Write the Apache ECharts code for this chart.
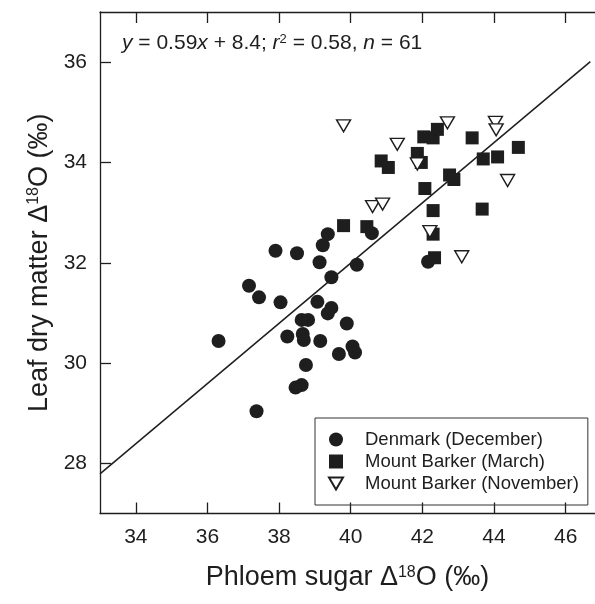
<!DOCTYPE html>
<html><head><meta charset="utf-8">
<script src="https://cdn.jsdelivr.net/npm/echarts@6/dist/echarts.min.js"></script>
<style>html,body{margin:0;padding:0;background:#fff}#c{width:595px;height:604px}</style>
</head><body><div id="c"></div>
<script>
// Tick labels
const xTicks = [34, 36, 38, 40, 42, 44, 46];
const yTicks = [28, 30, 32, 34, 36];

// Denmark (December) – phloem sugar Δ18O, leaf dry matter Δ18O
const denmark = [
  [39.36, 32.57], [39.22, 32.35], [37.90, 32.24], [38.50, 32.19], [39.13, 32.01],
  [40.17, 31.96], [39.46, 31.71], [37.16, 31.54], [37.44, 31.31], [38.04, 31.21],
  [39.07, 31.22], [39.46, 31.10], [39.36, 30.99], [38.63, 30.86], [38.81, 30.86],
  [39.89, 30.79], [38.23, 30.53], [38.66, 30.58], [38.69, 30.46], [39.15, 30.44],
  [36.31, 30.44], [40.05, 30.33], [40.12, 30.21], [39.67, 30.18], [38.75, 29.96],
  [38.63, 29.56], [38.46, 29.51], [37.37, 29.04], [40.59, 32.59], [42.16, 32.02]
];

// Mount Barker (March)
const barkerMarch = [
  [39.80, 32.74], [40.45, 32.72], [40.85, 34.03], [41.05, 33.90], [42.04, 34.51],
  [42.30, 34.49], [42.42, 34.66], [41.86, 34.18], [41.97, 34.00], [42.76, 33.75],
  [42.88, 33.66], [42.07, 33.48], [43.39, 34.49], [43.70, 34.07], [44.10, 34.11],
  [44.68, 34.30], [42.30, 33.04], [43.67, 33.07], [42.30, 32.57], [42.34, 32.10]
];

// Mount Barker (November)
const barkerNov = [
  [39.80, 34.73], [41.30, 34.36], [42.70, 34.79], [44.04, 34.80], [44.06, 34.65],
  [41.86, 33.97], [44.38, 33.64], [40.61, 33.12], [40.89, 33.17], [42.21, 32.62],
  [43.10, 32.12]
];

// Regression line end points (as drawn)
const fitX = [33, 46.69];
const fitY = [27.79, 36.01];

const FONT = '"Liberation Sans", Arial, Helvetica, sans-serif';
const INK = '#1e1e1e';

const chart = echarts.init(document.getElementById('c'), null, {renderer: 'canvas'});

const axisCommon = {
  type: 'value',
  splitLine: {show: false},
  axisLine: {show: true, onZero: false, lineStyle: {color: INK, width: 1.3}},
};

chart.setOption({
  animation: false,
  backgroundColor: '#fff',
  textStyle: {fontFamily: FONT},
  title: {
    left: 122, top: 33, padding: 0,
    text: '{i|y} = 0.59{i|x} + 8.4; {i|r}{sup|2} = 0.58, {i|n} = 61',
    textStyle: {
      fontFamily: FONT, fontSize: 21, fontWeight: 'normal', color: INK,
      rich: {
        i: {fontFamily: FONT, fontSize: 21, fontStyle: 'italic', color: INK},
        sup: {fontFamily: FONT, fontSize: 13, verticalAlign: 'top', color: INK}
      }
    }
  },
  grid: {left: 100, top: 12, right: -3, bottom: 90.5},
  xAxis: [
    Object.assign({}, axisCommon, {
      position: 'bottom', min: 33, max: 46.82,
      name: 'Phloem sugar Δ{sup|18}O (‰)',
      nameLocation: 'middle', nameGap: 51,
      nameTextStyle: {
        fontFamily: FONT, fontSize: 27, color: INK,
        rich: {sup: {fontFamily: FONT, fontSize: 16, verticalAlign: 'top', color: INK}}
      },
      axisTick: {show: true, inside: true, length: 11, customValues: xTicks, lineStyle: {color: INK, width: 1.3}},
      axisLabel: {customValues: xTicks, margin: 13, fontSize: 21, color: INK, fontFamily: FONT}
    }),
    Object.assign({}, axisCommon, {
      position: 'top', min: 33, max: 46.82,
      axisTick: {show: true, inside: true, length: 11, customValues: xTicks, lineStyle: {color: INK, width: 1.3}},
      axisLabel: {show: false}
    })
  ],
  yAxis: [
    Object.assign({}, axisCommon, {
      position: 'left', min: 27, max: 37,
      name: 'Leaf dry matter Δ{sup|18}O (‰)',
      nameLocation: 'middle', nameGap: 40,
      nameTextStyle: {
        fontFamily: FONT, fontSize: 27, color: INK,
        rich: {sup: {fontFamily: FONT, fontSize: 16, verticalAlign: 'top', color: INK}}
      },
      axisTick: {show: true, inside: true, length: 11, customValues: yTicks, lineStyle: {color: INK, width: 1.3}},
      axisLabel: {customValues: yTicks, margin: 13, fontSize: 21, color: INK, fontFamily: FONT}
    })
  ],
  legend: {
    orient: 'vertical', left: 315, top: 418,
    borderColor: '#333', borderWidth: 1, borderRadius: 0,
    padding: [12, 9, 12, 13],
    itemGap: 3, itemWidth: 14, itemHeight: 14,
    textStyle: {fontFamily: FONT, fontSize: 18.5, color: INK, lineHeight: 15, padding: [0, 0, 0, 17]},
    data: ['Denmark (December)', 'Mount Barker (March)', 'Mount Barker (November)']
  },
  series: [
    {
      type: 'line', name: 'fit', xAxisIndex: 0, yAxisIndex: 0,
      data: fitX.map((x, i) => [x, fitY[i]]),
      symbol: 'none', lineStyle: {color: INK, width: 1.5}, z: 1, silent: true
    },
    {
      type: 'scatter', name: 'Denmark (December)',
      data: denmark, symbol: 'circle', symbolSize: 14,
      itemStyle: {color: INK, opacity: 1}, z: 2
    },
    {
      type: 'scatter', name: 'Mount Barker (March)',
      data: barkerMarch, symbol: 'rect', symbolSize: 13,
      itemStyle: {color: INK, opacity: 1}, z: 3
    },
    {
      type: 'scatter', name: 'Mount Barker (November)',
      data: barkerNov, symbol: 'path://M0,0L20,0L10,17Z', symbolSize: [14, 12],
      itemStyle: {color: '#fff', borderColor: INK, borderWidth: 1.4, opacity: 1}, z: 4
    }
  ]
});
</script>
</body></html>
